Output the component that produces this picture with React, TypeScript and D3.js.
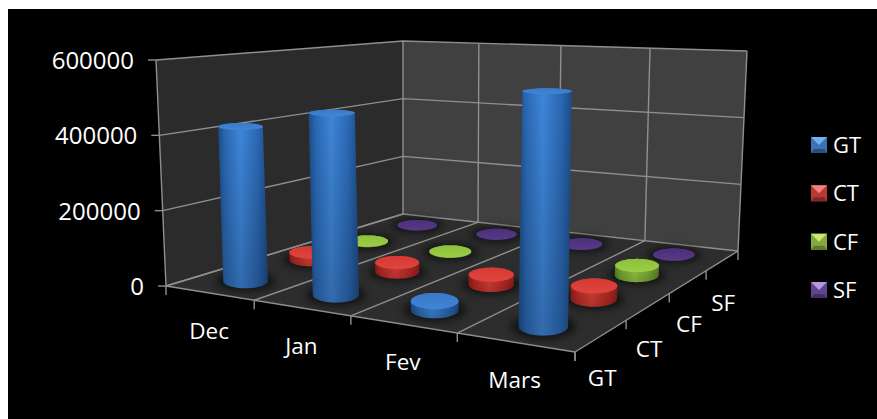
import React from "react";
import * as d3 from "d3";

const categories = ["Dec", "Jan", "Fev", "Mars"];
const seriesNames = ["GT", "CT", "CF", "SF"];
const gtValues = [417000, 470000, 22000, 554000];
const ctValues = [22000, 26000, 27000, 33000];
const cfValues = [1500, 1500, 0, 27000];
const sfValues = [1000, 1000, 1000, 1000];
const seriesValues = [gtValues, ctValues, cfValues, sfValues];
const valueTicks = [0, 200000, 400000, 600000];
const palette = [
  { left: "#2a68b4", mid: "#3f86d8", right: "#1d4c86", cap: "#397ac9", capHi: "#4085d6", light: "#6fb2f0", base: "#3a72b4", dark: "#264f80" },
  { left: "#b82a26", mid: "#de3f38", right: "#8e1f1c", cap: "#d43a33", capHi: "#e0453d", light: "#f58080", base: "#b83a36", dark: "#7e2724" },
  { left: "#78ab32", mid: "#99cd45", right: "#5c8526", cap: "#8cc03c", capHi: "#9ccd46", light: "#c9e878", base: "#86a83c", dark: "#5e7a2c" },
  { left: "#472e74", mid: "#5a3b8b", right: "#38245c", cap: "#4b307a", capHi: "#573988", light: "#b497e0", base: "#5f4590", dark: "#432f68" },
];

const W = 877, H = 419;
type Pt = [number, number];

function homography(q: Pt[]) {
  const [p0, p1, p2, p3] = q; // (0,0) (1,0) (1,1) (0,1)
  const dx1 = p1[0] - p2[0], dx2 = p3[0] - p2[0], sx = p0[0] - p1[0] + p2[0] - p3[0];
  const dy1 = p1[1] - p2[1], dy2 = p3[1] - p2[1], sy = p0[1] - p1[1] + p2[1] - p3[1];
  const den = dx1 * dy2 - dx2 * dy1;
  const g = (sx * dy2 - dx2 * sy) / den, h = (dx1 * sy - sx * dy1) / den;
  const a = p1[0] - p0[0] + g * p1[0], b = p3[0] - p0[0] + h * p3[0], c = p0[0];
  const d = p1[1] - p0[1] + g * p1[1], e = p3[1] - p0[1] + h * p3[1], f = p0[1];
  return (u: number, v: number): Pt => {
    const w = g * u + h * v + 1;
    return [(a * u + b * v + c) / w, (d * u + e * v + f) / w];
  };
}

const floorAt = homography([[166, 286], [575, 352], [738, 251], [403, 214]]);
const topAt = homography([[156, 60], [582, 79], [747, 51], [403, 41]]);
const valueT = d3.scaleLinear().domain([0, 600000]).range([0, 1]);
const uScale = d3.scaleBand<string>().domain(categories).range([0, 1]);
const vScale = d3.scaleBand<string>().domain(seriesNames).range([0, 1]);

function project(u: number, v: number, t: number): Pt {
  const a = floorAt(u, v), b = topAt(u, v);
  return [a[0] + (b[0] - a[0]) * t, a[1] + (b[1] - a[1]) * t];
}
const seg = (a: Pt, b: Pt) => `M${a[0]},${a[1]}L${b[0]},${b[1]}`;
const closed = d3.line<Pt>().curve(d3.curveLinearClosed);

const HORIZON = -22;
// A horizontal circle seen in perspective: wide as a share of its floor cell,
// flatter the closer it stands to the horizon.
const ring = (u: number, v: number, t: number, k = 1): Pt[] => {
  const half = uScale.bandwidth() / 2;
  const [cx, cy] = project(u, v, t);
  const span = Math.abs(project(u + half, v, 0)[0] - project(u - half, v, 0)[0]);
  const rx = (0.265 - 0.055 * u) * span;
  const ry = rx * (cy - HORIZON) * 0.00105;
  return d3.range(48).map((i) => {
    const a = (i / 48) * 2 * Math.PI;
    return [cx + k * rx * Math.cos(a), cy + k * ry * Math.sin(a)] as Pt;
  });
};

const uBounds = categories.map((_, i) => i * uScale.step()).concat(1);
const vBounds = seriesNames.map((_, i) => i * vScale.step()).concat(1);
const FONT = "'Open Sans', sans-serif";
const GRID = "#8f8f8f";

const bars = seriesNames
  .flatMap((s, si) =>
    categories.map((c, ci) => ({ s, si, c, ci, value: seriesValues[si][ci] }))
  )
  .filter((b) => b.value > 0)
  .sort((a, b) => b.si - a.si || a.ci - b.ci);

const legendY = d3.scalePoint<string>().domain(seriesNames).range([145, 290]);

export default function App() {
  return (
    <svg width={W} height={H} style={{ position: "absolute", left: 0, top: 0, background: "#fff" }}>
      <defs>
        <filter id="soft" x="-50%" y="-100%" width="200%" height="300%">
          <feGaussianBlur stdDeviation="4" />
        </filter>
        {palette.map((p, i) => (
          <linearGradient key={i} id={`body${i}`} x1="0" x2="1" y1="0" y2="0">
            <stop offset="0" stopColor={p.right} />
            <stop offset="0.14" stopColor={p.left} />
            <stop offset="0.45" stopColor={p.mid} />
            <stop offset="0.8" stopColor={p.left} />
            <stop offset="1" stopColor={p.right} />
          </linearGradient>
        ))}
        {palette.map((p, i) => (
          <linearGradient key={i} id={`cap${i}`} x1="0" x2="0" y1="0" y2="1">
            <stop offset="0" stopColor={p.cap} />
            <stop offset="1" stopColor={p.capHi} />
          </linearGradient>
        ))}
        <linearGradient id="fade" x1="0" x2="0" y1="0" y2="1">
          <stop offset="0" stopColor="#000" stopOpacity={0} />
          <stop offset="1" stopColor="#000" stopOpacity={0.2} />
        </linearGradient>
      </defs>
      <rect x={8} y={9} width={W - 8} height={H - 9} fill="#000" />

      {/* walls and floor */}
      <path d={closed([project(0, 0, 0), project(0, 1, 0), project(0, 1, 1), project(0, 0, 1)])!} fill="#2b2b2b" />
      <path d={closed([project(0, 1, 0), project(1, 1, 0), project(1, 1, 1), project(0, 1, 1)])!} fill="#404040" />
      <path d={closed([project(0, 0, 0), project(1, 0, 0), project(1, 1, 0), project(0, 1, 0)])!} fill="#2d2d2d" />

      {/* gridlines */}
      <g stroke={GRID} strokeWidth={1.4} fill="none">
        {valueTicks.map((t) => (
          <path key={t} d={seg(project(0, 0, valueT(t)), project(0, 1, valueT(t))) + seg(project(0, 1, valueT(t)), project(1, 1, valueT(t)))} />
        ))}
        {uBounds.map((u) => (
          <path key={u} d={seg(project(u, 1, 0), project(u, 1, 1))} />
        ))}
        <path d={seg(project(0, 0, 0), project(0, 0, 1))} />
        {uBounds.map((u) => (
          <path key={u} d={seg(project(u, 0, 0), project(u, 1, 0))} />
        ))}
        <path d={seg(project(0, 0, 0), project(1, 0, 0))} />
        {/* ticks */}
        {valueTicks.map((t) => {
          const p = project(0, 0, valueT(t));
          return <path key={t} d={`M${p[0]},${p[1]}h-8`} />;
        })}
        {uBounds.map((u) => {
          const p = project(u, 0, 0);
          return <path key={u} d={`M${p[0]},${p[1]}v9`} />;
        })}
        {vBounds.map((v) => {
          const p = project(1, v, 0);
          return <path key={v} d={`M${p[0]},${p[1]}v9`} />;
        })}
      </g>

      {/* axis labels */}
      <g fill="#fff" fontFamily={FONT} fontSize={24}>
        {valueTicks.map((t) => {
          const p = project(0, 0, valueT(t));
          return (
            <text key={t} x={p[0] - 22} y={p[1] + 9} textAnchor="end">
              {t}
            </text>
          );
        })}
      </g>
      <g fill="#fff" fontFamily={FONT} fontSize={22.5} textAnchor="middle">
        {categories.map((c) => {
          const p = project(uScale(c)! + uScale.bandwidth() / 2, 0, 0);
          return (
            <text key={c} x={p[0]} y={p[1] + 46}>
              {c}
            </text>
          );
        })}
        {seriesNames.map((s) => {
          const p = project(1, vScale(s)! + vScale.bandwidth() / 2, 0);
          return (
            <text key={s} x={p[0] + 0.5} y={p[1] + 50.5}>
              {s}
            </text>
          );
        })}
      </g>

      {/* shadows */}
      {bars.map((b) => {
        const u = uScale(b.c)! + uScale.bandwidth() / 2;
        const v = vScale(b.s)! + vScale.bandwidth() / 2;
        return <path key={b.s + b.c} d={closed(ring(u, v, 0, 1.3))!} fill="#000" opacity={0.65} filter="url(#soft)" />;
      })}

      {/* cylinders */}
      {bars.map((b) => {
        const u = uScale(b.c)! + uScale.bandwidth() / 2;
        const v = vScale(b.s)! + vScale.bandwidth() / 2;
        const t = valueT(b.value);
        const bottom = ring(u, v, 0);
        const top = ring(u, v, t);
        const hull = d3.polygonHull([...bottom, ...top])!;
        return (
          <g key={b.s + b.c}>
            <path d={closed(hull)!} fill={`url(#body${b.si})`} />
            <path d={closed(hull)!} fill="url(#fade)" />
            <path d={closed(top)!} fill={`url(#cap${b.si})`} />
          </g>
        );
      })}

      {/* legend */}
      {seriesNames.map((s, i) => {
        const y = legendY(s)!;
        const x = 819, r = 8, p = palette[i];
        return (
          <g key={s}>
            <rect x={x - r} y={y - r} width={2 * r} height={2 * r} fill={p.base} />
            <path d={`M${x - r},${y - r}H${x + r}L${x},${y}Z`} fill={p.light} />
            <path d={`M${x - r},${y + r}H${x + r}L${x + r - 3},${y + r - 4}H${x - r + 3}Z`} fill={p.dark} />
            <text x={833} y={y + 8} fill="#fff" fontFamily={FONT} fontSize={22}>
              {s}
            </text>
          </g>
        );
      })}
    </svg>
  );
}
